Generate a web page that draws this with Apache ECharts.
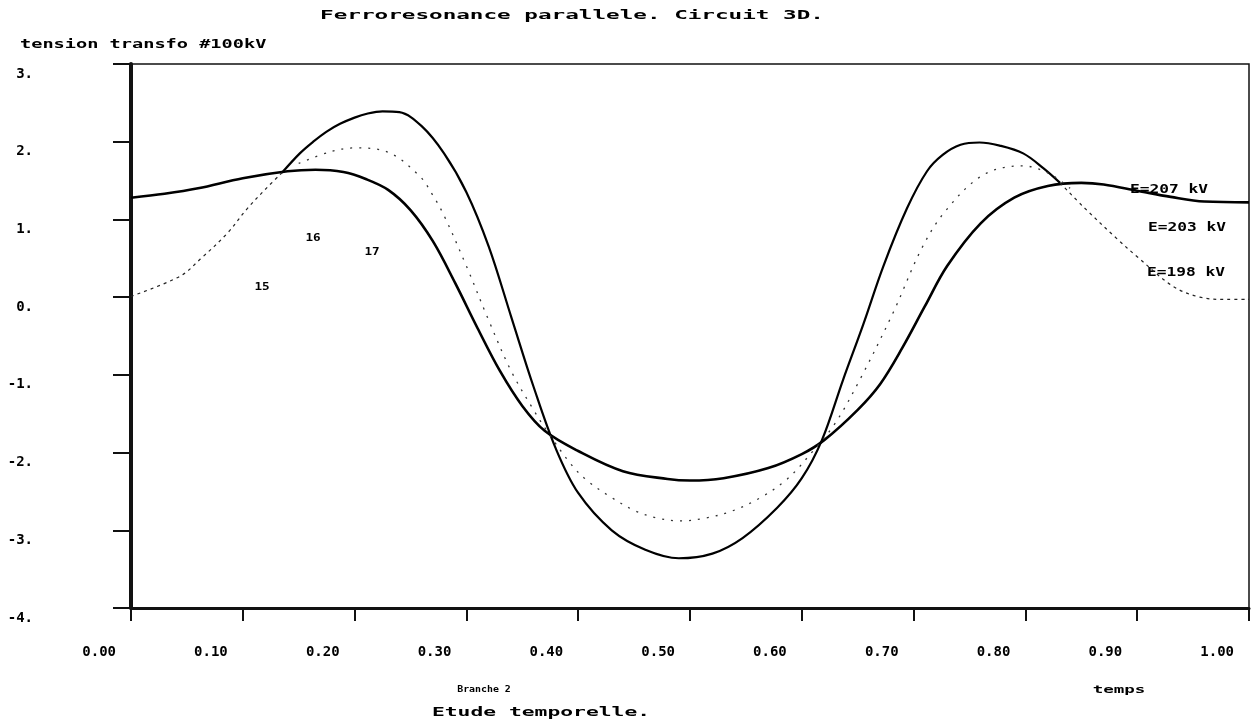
<!DOCTYPE html>
<html><head><meta charset="utf-8">
<script src="https://cdn.jsdelivr.net/npm/echarts@6/dist/echarts.min.js"></script>
<style>html,body{margin:0;padding:0;background:#fff}#c{width:1252px;height:727px}</style>
</head><body><div id="c"></div>
<script>
// ---- data ----
const xTickLabels = ['0.00','0.10','0.20','0.30','0.40','0.50','0.60','0.70','0.80','0.90','1.00'];
const yTickLabels = ['-4.','-3.','-2.','-1.','0.','1.','2.','3.'];

// E=207 kV (solid, small amplitude)
const tA = [0,.03,.06,.10,.14,.165,.19,.21,.23,.25,.27,.29,.31,.33,.35,.37,.40,.44,.48,.50,.53,.57,.60,.62,.65,.67,.69,.71,.73,.76,.79,.82,.85,.87,.90,.93,.96,1.0];
const vA = [1.28,1.33,1.40,1.53,1.62,1.64,1.61,1.52,1.38,1.12,0.72,0.18,-0.40,-0.95,-1.40,-1.72,-1.98,-2.24,-2.34,-2.36,-2.33,-2.20,-2.02,-1.84,-1.45,-1.12,-0.65,-0.12,0.40,0.95,1.28,1.43,1.47,1.45,1.37,1.29,1.23,1.22];

// E=198 kV (large amplitude, solid in the middle, dotted at both ends)
const tB = [0,.044,.062,.086,.104,.121,.135,.151,.163,.175,.187,.20,.211,.225,.24,.26,.28,.30,.32,.34,.36,.38,.40,.43,.46,.49,.52,.547,.578,.60,.618,.637,.655,.673,.694,.712,.726,.742,.759,.777,.798,.816,.831,.852,.882,.90,.932,.956,.98,1.0];
const vB = [0.01,0.27,0.49,0.82,1.14,1.40,1.60,1.85,2.00,2.13,2.23,2.31,2.36,2.39,2.38,2.20,1.85,1.35,0.65,-0.25,-1.15,-1.95,-2.52,-3.00,-3.25,-3.36,-3.30,-3.10,-2.71,-2.33,-1.84,-1.06,-0.35,0.40,1.14,1.62,1.83,1.96,1.99,1.95,1.85,1.66,1.47,1.16,0.75,0.52,0.14,0.00,-0.03,-0.03];

// E=203 kV (dotted, intermediate)
const tC = [.15,.178,.20,.229,.258,.27,.28,.30,.32,.34,.36,.372,.393,.408,.43,.451,.47,.491,.515,.538,.563,.587,.61,.63,.652,.682,.707,.728,.762,.797,.82,.84];
const vC = [1.72,1.87,1.92,1.87,1.56,1.31,1.05,0.40,-0.30,-0.95,-1.45,-1.72,-2.14,-2.36,-2.58,-2.75,-2.84,-2.88,-2.84,-2.75,-2.58,-2.34,-1.98,-1.62,-1.06,-0.19,0.62,1.10,1.57,1.69,1.60,1.40];

const seriesNames = ['E=207 kV','E=203 kV','E=198 kV'];
const curveNumbers = ['15','16','17'];

// ---- build ----
const pairs = (t, v) => t.map((x, i) => [x, v[i]]);
const solidFrom = 0.135, solidTo = 0.831;
const bSolid = tB.map((x, i) => (x >= solidFrom && x <= solidTo) ? [x, vB[i]] : [x, '-']);
const bDot = tB.map((x, i) => (x <= solidFrom || x >= solidTo) ? [x, vB[i]] : [x, '-']);

const MONO = '"DejaVu Sans Mono", "Liberation Mono", monospace';
function txt(text, x, y, size, sx, align) {
  return {
    type: 'text', x: x, y: y, scaleX: sx, scaleY: 1, silent: true,
    style: {
      text: text, font: 'bold ' + size + 'px ' + MONO, fill: '#000',
      textAlign: align || 'center', align: align || 'center',
      textVerticalAlign: 'middle', verticalAlign: 'middle'
    }
  };
}

const chart = echarts.init(document.getElementById('c'), null, {renderer: 'canvas'});
chart.setOption({
  animation: false,
  backgroundColor: '#fff',
  grid: {left: 131, right: 3, top: 64, bottom: 119, show: true, borderColor: '#111', borderWidth: 1.5, containLabel: false},
  xAxis: {
    type: 'value', min: 0, max: 1, interval: 0.1,
    axisLine: {onZero: false, lineStyle: {color: '#111', width: 3}},
    axisTick: {length: 13, lineStyle: {color: '#111', width: 2}},
    splitLine: {show: false},
    axisLabel: {
      margin: 37, color: '#000', fontFamily: MONO, fontWeight: 'bold', fontSize: 14,
      align: 'right', padding: [0, 15, 0, 0],
      formatter: v => xTickLabels[Math.round(v * 10)]
    }
  },
  yAxis: {
    type: 'value', min: -4, max: 3, interval: 1,
    axisLine: {onZero: false, lineStyle: {color: '#111', width: 4}},
    axisTick: {length: 18, lineStyle: {color: '#111', width: 2}},
    splitLine: {show: false},
    axisLabel: {
      margin: 98, color: '#000', fontFamily: MONO, fontWeight: 'bold', fontSize: 14,
      align: 'right', verticalAlign: 'top', padding: [3, 0, 0, 0],
      formatter: v => yTickLabels[Math.round(v) + 4]
    }
  },
  series: [
    {name: seriesNames[0], type: 'line', data: pairs(tA, vA), smooth: 0.35, symbol: 'none',
     lineStyle: {color: '#000', width: 2.6}},
    {name: seriesNames[2], type: 'line', data: bSolid, smooth: 0.35, symbol: 'none',
     lineStyle: {color: '#000', width: 2.2}},
    {name: seriesNames[2] + ' ', type: 'line', data: bDot, smooth: 0.35, symbol: 'none',
     lineStyle: {color: '#222', width: 1.2, type: [3, 4]}},
    {name: seriesNames[1], type: 'line', data: pairs(tC, vC), smooth: 0.35, symbol: 'none',
     lineStyle: {color: '#333', width: 1.3, type: [2, 7]}}
  ],
  graphic: [
    txt('Ferroresonance parallele. Circuit 3D.', 572, 16, 13, 1.74),
    txt('tension transfo #100kV', 20, 45, 12, 1.55, 'left'),
    txt('Etude temporelle.', 541, 713, 13, 1.64),
    txt('Branche 2', 484, 690, 9, 1.1),
    txt('temps', 1119, 690, 10, 1.75),
    txt(seriesNames[0], 1169, 190, 12, 1.35),
    txt(seriesNames[1], 1187, 228, 12, 1.35),
    txt(seriesNames[2], 1186, 273, 12, 1.35),
    txt(curveNumbers[0], 262, 287, 11, 1.15),
    txt(curveNumbers[1], 313, 238, 11, 1.15),
    txt(curveNumbers[2], 372, 252, 11, 1.15)
  ]
});
</script>
</body></html>
